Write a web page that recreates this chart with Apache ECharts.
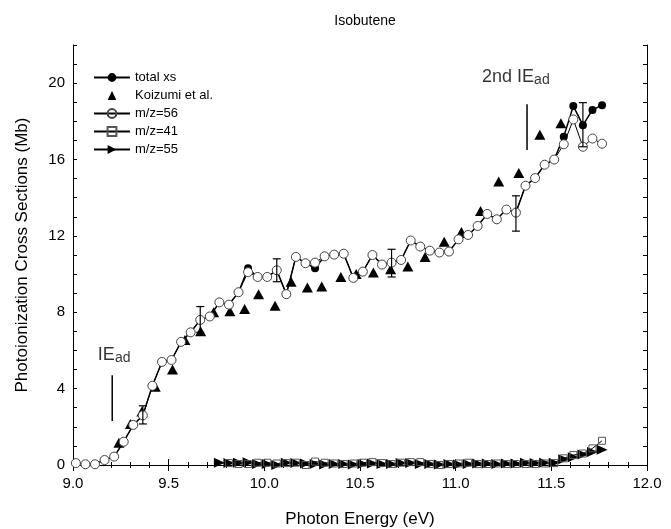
<!DOCTYPE html>
<html>
<head>
<meta charset="utf-8">
<script src="https://cdn.jsdelivr.net/npm/echarts@6/dist/echarts.min.js"></script>
<style>
  html, body { margin: 0; padding: 0; background: #fff; }
  #chart { width: 671px; height: 529px; }
</style>
</head>
<body>
<div id="chart"></div>
<script>
// photon energies (eV) of the measured points
const energy = [9.015, 9.065, 9.115, 9.165, 9.215, 9.265, 9.315, 9.365, 9.415, 9.465,
  9.515, 9.565, 9.615, 9.665, 9.715, 9.765, 9.815, 9.865, 9.915, 9.965,
  10.015, 10.065, 10.115, 10.165, 10.215, 10.265, 10.315, 10.365, 10.415, 10.465,
  10.515, 10.565, 10.615, 10.665, 10.715, 10.765, 10.815, 10.865, 10.915, 10.965,
  11.015, 11.065, 11.115, 11.165, 11.215, 11.265, 11.315, 11.365, 11.415, 11.465,
  11.515, 11.565, 11.615, 11.665, 11.715, 11.765];

const totalXs = [0.10, 0.04, 0.04, 0.26, 0.44, 1.22, 2.1, 2.6, 4.15, 5.4,
  5.5, 6.45, 6.95, 7.6, 7.78, 8.52, 8.4, 9.05, 10.3, 9.85,
  9.85, 10.2, 8.95, 10.9, 10.57, 10.3, 10.93, 11.02, 11.07, 9.8,
  10.13, 11.0, 10.5, 10.6, 10.74, 11.76, 11.44, 11.23, 11.13, 11.18,
  11.82, 12.05, 12.52, 13.15, 12.87, 13.38, 13.22, 14.63, 15.03, 15.73,
  16.0, 17.2, 18.8, 17.8, 18.6, 18.85];

const mz56 = [0.10, 0.04, 0.04, 0.26, 0.44, 1.22, 2.1, 2.6, 4.15, 5.4,
  5.5, 6.45, 6.95, 7.6, 7.78, 8.52, 8.4, 9.05, 10.1, 9.85,
  9.85, 10.2, 8.95, 10.9, 10.57, 10.6, 10.93, 11.02, 11.07, 9.8,
  10.13, 11.0, 10.5, 10.6, 10.74, 11.76, 11.44, 11.23, 11.13, 11.18,
  11.82, 12.05, 12.52, 13.15, 12.87, 13.38, 13.22, 14.63, 15.03, 15.73,
  16.0, 16.8, 18.1, 16.67, 17.1, 16.83];

// m/z=41 starts at energy[16], m/z=55 at energy[15]
const mz41Start = 16;
const mz41 = [0.1, 0.05, 0.05, 0.12, 0.12, 0.08, 0.1, 0.12, 0.0, 0.18,
  0.12, 0.08, 0.05, 0.08, 0.12, 0.15, 0.1, 0.05, 0.12, 0.15,
  0.15, 0.05, 0.0, 0.05, 0.08, 0.12, 0.05, 0.05, 0.08, 0.05,
  0.05, 0.05, 0.05, 0.08, 0.1, 0.35, 0.52, 0.6, 0.87, 1.27];
const mz55Start = 15;
const mz55 = [0.12, 0.1, 0.12, 0.15, 0.05, 0.05, 0.0, 0.12, 0.1, 0.08,
  0.05, 0.02, 0.05, 0.05, 0.02, 0.05, 0.08, 0.05, 0.05, 0.1,
  0.1, 0.05, 0.05, 0.02, 0.05, 0.03, 0.05, 0.08, 0.08, 0.05,
  0.08, 0.08, 0.12, 0.1, 0.12, 0.12, 0.3, 0.4, 0.55, 0.68, 0.8];

// Koizumi et al.
const kzEnergy = [9.24, 9.30, 9.36, 9.43, 9.52, 9.585, 9.667, 9.735, 9.82, 9.897,
  9.97, 10.056, 10.14, 10.225, 10.30, 10.40, 10.48, 10.57, 10.66, 10.75,
  10.84, 10.94, 11.03, 11.13, 11.225, 11.33, 11.44, 11.55];
const kzValue = [1.17, 2.15, 2.8, 4.1, 5.0, 6.55, 7.0, 8.0, 8.05, 8.17,
  8.95, 8.34, 9.6, 9.3, 9.35, 9.85, 10.0, 10.08, 10.25, 10.4,
  10.9, 11.7, 12.2, 13.3, 14.85, 15.3, 17.3, 17.9];

// error bars
const errEnergy = [9.365, 9.665, 10.065, 10.665, 11.315, 11.665];
const errLow = [2.15, 6.95, 9.6, 9.85, 12.25, 16.67];
const errHigh = [3.1, 8.3, 10.8, 11.3, 14.1, 18.98];

// ionization energy markers
const ieEnergy = [9.205, 11.373];
const ieLow = [2.3, 16.5];
const ieHigh = [4.7, 18.9];

const xTicks = [9.0, 9.5, 10.0, 10.5, 11.0, 11.5, 12.0];

const FONT = 'Liberation Sans, Arial, sans-serif';
const pair = (xs, ys) => ys.map((v, i) => [xs[i], v]);

const myChart = echarts.init(document.getElementById('chart'));

const axisCommon = {
  axisLine: { show: true, lineStyle: { color: '#000', width: 1 } },
  splitLine: { show: false },
};

const option = {
  animation: false,
  backgroundColor: '#fff',
  title: {
    text: 'Isobutene',
    left: 360,
    top: 9,
    textAlign: 'center',
    textStyle: { fontFamily: FONT, fontSize: 14, fontWeight: 'normal', color: '#000' }
  },
  grid: { left: 73, right: 24, top: 45, bottom: 64, outerBoundsMode: 'none', containLabel: false },
  legend: {
    data: [
      'total xs',
      'Koizumi et al.',
      { name: 'm/z=56', itemStyle: { color: 'rgba(255,255,255,0)' } },
      { name: 'm/z=41', itemStyle: { color: 'rgba(255,255,255,0)' } },
      'm/z=55'
    ],
    orient: 'vertical',
    left: 88,
    top: 66,
    itemWidth: 36,
    itemHeight: 11,
    itemGap: 5,
    textStyle: { fontFamily: FONT, fontSize: 13, color: '#000' }
  },
  xAxis: [{
    ...axisCommon,
    type: 'value',
    min: 9,
    max: 12,
    interval: 0.5,
    name: 'Photon Energy (eV)',
    nameLocation: 'middle',
    nameGap: 46,
    nameTextStyle: { fontFamily: FONT, fontSize: 17, color: '#000' },
    axisTick: { inside: true, length: 6, lineStyle: { color: '#000' } },
    minorTick: { show: true, splitNumber: 5, length: 3, lineStyle: { color: '#000' } },
    axisLabel: {
      margin: 11,
      fontFamily: FONT, fontSize: 15, color: '#000',
      formatter: v => xTicks.includes(v) ? v.toFixed(1) : ''
    }
  }, {
    ...axisCommon,
    type: 'value',
    position: 'top',
    min: 9,
    max: 12,
    interval: 0.5,
    axisTick: { inside: true, length: 6, lineStyle: { color: '#000' } },
    minorTick: { show: true, splitNumber: 5, length: 3, lineStyle: { color: '#000' } },
    axisLabel: { show: false }
  }],
  yAxis: [{
    ...axisCommon,
    type: 'value',
    min: 0,
    max: 22,
    interval: 1,
    name: 'Photoionization Cross Sections (Mb)',
    nameLocation: 'middle',
    nameGap: 42,
    nameTextStyle: { fontFamily: FONT, fontSize: 17, color: '#000' },
    axisTick: { inside: true, length: 4, lineStyle: { color: '#000' } },
    axisLabel: {
      interval: 0,
      margin: 8,
      fontFamily: FONT, fontSize: 15, color: '#000',
      formatter: v => (v % 4 === 0 && v <= 20) ? String(v) : ''
    }
  }, {
    ...axisCommon,
    type: 'value',
    position: 'right',
    min: 0,
    max: 22,
    interval: 1,
    axisTick: { inside: true, length: 4, lineStyle: { color: '#000' } },
    axisLabel: { show: false }
  }],
  series: [
    {
      name: 'total xs',
      type: 'line',
      data: pair(energy, totalXs),
      symbol: 'circle',
      symbolSize: 8,
      itemStyle: { color: '#000' },
      lineStyle: { color: '#000', width: 1.5 },
      z: 3
    },
    {
      name: 'Koizumi et al.',
      type: 'line',
      data: pair(kzEnergy, kzValue),
      symbol: 'triangle',
      symbolSize: [11, 10],
      itemStyle: { color: '#000', opacity: 1 },
      lineStyle: { opacity: 0 },
      z: 4
    },
    {
      name: 'm/z=56',
      type: 'line',
      data: pair(energy, mz56),
      symbol: 'circle',
      symbolSize: 9,
      itemStyle: { color: '#fff', borderColor: '#444', borderWidth: 1 },
      lineStyle: { color: '#000', width: 1 },
      z: 5
    },
    {
      name: 'm/z=41',
      type: 'line',
      data: pair(energy.slice(mz41Start), mz41),
      symbol: 'rect',
      symbolSize: 7,
      itemStyle: { color: 'rgba(255,255,255,0)', borderColor: '#555', borderWidth: 1 },
      lineStyle: { color: '#000', width: 1 },
      z: 5
    },
    {
      name: 'm/z=55',
      type: 'line',
      data: pair(energy.slice(mz55Start), mz55),
      symbol: 'triangle',
      symbolRotate: -90,
      symbolSize: [10, 11],
      itemStyle: { color: '#000' },
      lineStyle: { color: '#000', width: 1 },
      z: 4
    },
    {
      name: 'errors',
      type: 'custom',
      data: errEnergy.map((e, i) => [e, errLow[i], errHigh[i]]),
      z: 6,
      renderItem: (params, api) => {
        const lo = api.coord([api.value(0), api.value(1)]);
        const hi = api.coord([api.value(0), api.value(2)]);
        const w = 4;
        const st = { stroke: '#000', lineWidth: 1.2 };
        return {
          type: 'group',
          children: [
            { type: 'line', shape: { x1: lo[0], y1: lo[1], x2: hi[0], y2: hi[1] }, style: st },
            { type: 'line', shape: { x1: lo[0] - w, y1: lo[1], x2: lo[0] + w, y2: lo[1] }, style: st },
            { type: 'line', shape: { x1: hi[0] - w, y1: hi[1], x2: hi[0] + w, y2: hi[1] }, style: st }
          ]
        };
      }
    },
    {
      name: 'IE markers',
      type: 'custom',
      data: ieEnergy.map((e, i) => [e, ieLow[i], ieHigh[i]]),
      renderItem: (params, api) => {
        const lo = api.coord([api.value(0), api.value(1)]);
        const hi = api.coord([api.value(0), api.value(2)]);
        return { type: 'line', shape: { x1: lo[0], y1: lo[1], x2: hi[0], y2: hi[1] },
          style: { stroke: '#000', lineWidth: 1.5 } };
      }
    },
    {
      name: 'IE labels',
      type: 'scatter',
      symbolSize: 0,
      silent: true,
      data: [
        { value: [9.13, 5.75], label: { formatter: '{a|IE}{b|ad}' } },
        { value: [11.138, 20.3], label: { formatter: '{a|2nd IE}{b|ad}' } }
      ],
      label: {
        show: true,
        position: 'right',
        distance: 0,
        fontFamily: FONT,
        color: '#000',
        rich: {
          a: { fontFamily: FONT, fontSize: 18, lineHeight: 19, verticalAlign: 'top', color: '#000' },
          b: { fontFamily: FONT, fontSize: 14, lineHeight: 15, verticalAlign: 'bottom', color: '#000', padding: [10, 0, 0, 0] }
        }
      }
    }
  ]
};

option && myChart.setOption(option);
</script>
</body>
</html>
